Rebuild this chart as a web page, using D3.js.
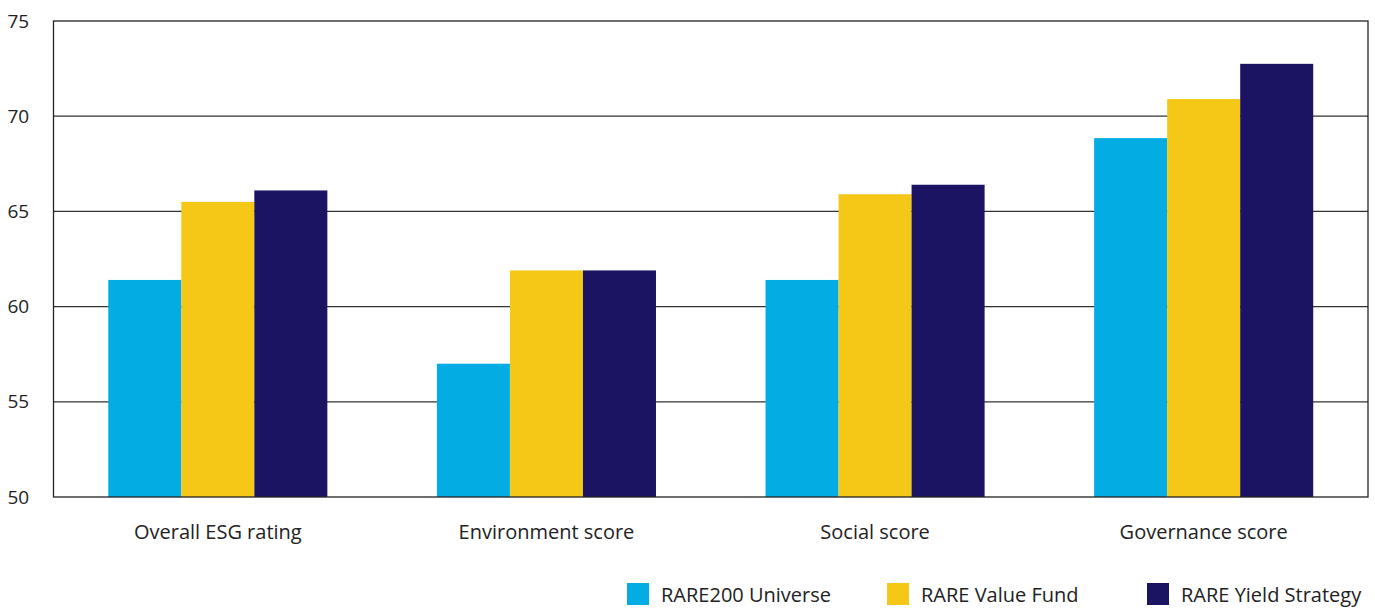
<!DOCTYPE html>
<html><head><meta charset="utf-8">
<script src="https://cdn.jsdelivr.net/npm/d3@7"></script>
<style>body{margin:0;background:#fff;} svg{display:block;font-family:"Open Sans",sans-serif;}</style>
</head><body><svg id="c" width="1375" height="608"></svg>
<script>
const categories = ["Overall ESG rating","Environment score","Social score","Governance score"];
const seriesNames = ["RARE200 Universe","RARE Value Fund","RARE Yield Strategy"];
const universe = [61.4, 57.0, 61.4, 68.85];
const valueFund = [65.5, 61.9, 65.9, 70.9];
const yieldStrategy = [66.1, 61.9, 66.4, 72.75];
const yTicks = [50,55,60,65,70,75];
const colors = ["#03ADE4","#F5C716","#1A1463"];

const seriesValues = [universe, valueFund, yieldStrategy];
const svg = d3.select("#c");
const L=53.5, R=1368, T=21, B=497;
const x0 = d3.scaleBand().domain(categories).range([L,R]).paddingInner(1/3).paddingOuter(1/6);
const x1 = d3.scaleBand().domain(seriesNames).range([0,x0.bandwidth()]);
const y = d3.scaleLinear().domain([50,75]).range([B,T]);

// grid
svg.append("g").selectAll("line").data(yTicks.filter(t=>t>50&&t<75)).join("line")
  .attr("x1",L).attr("x2",R).attr("y1",d=>y(d)).attr("y2",d=>y(d))
  .attr("stroke","#333").attr("stroke-width",1.3);

// bars
const g = svg.append("g").selectAll("g").data(categories).join("g")
  .attr("transform",d=>`translate(${x0(d)},0)`);
g.selectAll("rect").data((d,i)=>seriesNames.map((s,j)=>({s,j,v:seriesValues[j][i]}))).join("rect")
  .attr("x",d=>x1(d.s)).attr("width",x1.bandwidth())
  .attr("y",d=>y(d.v)).attr("height",d=>B-y(d.v))
  .attr("fill",d=>colors[d.j]);

// frame
svg.append("rect").attr("x",L).attr("y",T).attr("width",R-L).attr("height",B-T)
  .attr("fill","none").attr("stroke","#222").attr("stroke-width",1.3);

// y axis labels
const ya = d3.axisLeft(y).tickValues(yTicks).tickSize(0).tickPadding(20);
const yg = svg.append("g").attr("transform",`translate(${L},0)`).call(ya);
yg.select(".domain").remove();
yg.selectAll("text").attr("font-size",19).attr("fill","#222").attr("font-family","Open Sans").attr("text-anchor","start").attr("x",-46);

// x axis labels
const xa = d3.axisBottom(x0).tickSize(0).tickPadding(28);
const xg = svg.append("g").attr("transform",`translate(0,${B})`).call(xa);
xg.select(".domain").remove();
xg.selectAll("text").attr("font-size",20).attr("fill","#222").attr("font-family","Open Sans");

// legend
const legX = [627, 887, 1147];
const lg = svg.append("g").selectAll("g").data(seriesNames).join("g")
  .attr("transform",(d,i)=>`translate(${legX[i]},583)`);
lg.append("rect").attr("width",22).attr("height",22).attr("fill",(d,i)=>colors[i]);
lg.append("text").attr("x",34).attr("y",19).attr("font-size",20).attr("fill","#222").text(d=>d);
</script></body></html>
